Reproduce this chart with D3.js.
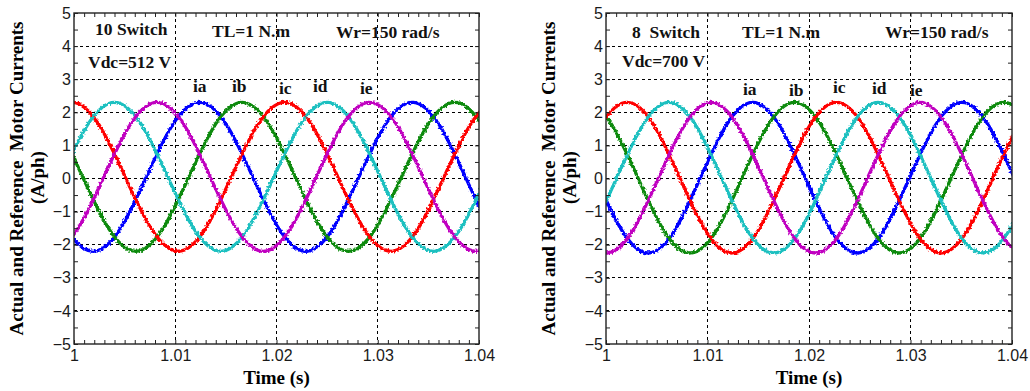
<!DOCTYPE html>
<html>
<head>
<meta charset="utf-8">
<script src="https://cdn.jsdelivr.net/npm/d3@7"></script>
<style>
  body { margin: 0; background: #fff; }
  svg { display: block; }
</style>
</head>
<body>
<div class="chart"></div>
<script>
// axis ticks
var xTicks = [1, 1.01, 1.02, 1.03, 1.04];
var xTickLabels = ["1", "1.01", "1.02", "1.03", "1.04"];
var yTicks = [-5, -4, -3, -2, -1, 0, 1, 2, 3, 4, 5];
var phaseNames = ["ia", "ib", "ic", "id", "ie"];

// 10 switch inverter, [time (s), current (A)]
var ia10 = [[0.99403,1.64],[0.99665,0.05],[0.99928,-1.54],[1.00190,-2.20],[1.00453,-1.54],[1.00715,0.05],[1.00978,1.64],[1.01240,2.30],[1.01503,1.64],[1.01765,0.05],[1.02028,-1.54],[1.02290,-2.20],[1.02553,-1.54],[1.02815,0.05],[1.03078,1.64],[1.03340,2.30],[1.03603,1.64],[1.03865,0.05],[1.04128,-1.54],[1.04390,-2.20],[1.04653,-1.54]];
var ib10 = [[0.99298,1.64],[0.99560,2.30],[0.99823,1.64],[1.00085,0.05],[1.00348,-1.54],[1.00610,-2.20],[1.00873,-1.54],[1.01135,0.05],[1.01398,1.64],[1.01660,2.30],[1.01923,1.64],[1.02185,0.05],[1.02448,-1.54],[1.02710,-2.20],[1.02973,-1.54],[1.03235,0.05],[1.03498,1.64],[1.03760,2.30],[1.04023,1.64],[1.04285,0.05],[1.04548,-1.54]];
var ic10 = [[0.99455,0.05],[0.99718,1.64],[0.99980,2.30],[1.00243,1.64],[1.00505,0.05],[1.00768,-1.54],[1.01030,-2.20],[1.01293,-1.54],[1.01555,0.05],[1.01818,1.64],[1.02080,2.30],[1.02343,1.64],[1.02605,0.05],[1.02868,-1.54],[1.03130,-2.20],[1.03393,-1.54],[1.03655,0.05],[1.03918,1.64],[1.04180,2.30],[1.04443,1.64]];
var id10 = [[0.99350,-2.20],[0.99613,-1.54],[0.99875,0.05],[1.00138,1.64],[1.00400,2.30],[1.00663,1.64],[1.00925,0.05],[1.01188,-1.54],[1.01450,-2.20],[1.01713,-1.54],[1.01975,0.05],[1.02238,1.64],[1.02500,2.30],[1.02763,1.64],[1.03025,0.05],[1.03288,-1.54],[1.03550,-2.20],[1.03813,-1.54],[1.04075,0.05],[1.04338,1.64],[1.04600,2.30]];
var ie10 = [[0.99245,0.05],[0.99508,-1.54],[0.99770,-2.20],[1.00033,-1.54],[1.00295,0.05],[1.00558,1.64],[1.00820,2.30],[1.01083,1.64],[1.01345,0.05],[1.01608,-1.54],[1.01870,-2.20],[1.02133,-1.54],[1.02395,0.05],[1.02658,1.64],[1.02920,2.30],[1.03183,1.64],[1.03445,0.05],[1.03708,-1.54],[1.03970,-2.20],[1.04233,-1.54],[1.04495,0.05]];

// 8 switch inverter
var ia8 = [[0.99386,2.30],[0.99644,1.63],[0.99901,0.03],[1.00159,-1.58],[1.00416,-2.25],[1.00674,-1.58],[1.00931,0.03],[1.01189,1.63],[1.01446,2.30],[1.01704,1.63],[1.01961,0.03],[1.02219,-1.58],[1.02476,-2.25],[1.02734,-1.58],[1.02991,0.03],[1.03249,1.63],[1.03506,2.30],[1.03764,1.63],[1.04021,0.03],[1.04279,-1.58],[1.04536,-2.25]];
var ib8 = [[0.99283,0.03],[0.99541,1.63],[0.99798,2.30],[1.00056,1.63],[1.00313,0.03],[1.00571,-1.58],[1.00828,-2.25],[1.01086,-1.58],[1.01343,0.03],[1.01601,1.63],[1.01858,2.30],[1.02116,1.63],[1.02373,0.03],[1.02631,-1.58],[1.02888,-2.25],[1.03146,-1.58],[1.03403,0.03],[1.03661,1.63],[1.03918,2.30],[1.04176,1.63],[1.04433,0.03]];
var ic8 = [[0.99438,-1.58],[0.99695,0.03],[0.99953,1.63],[1.00210,2.30],[1.00468,1.63],[1.00725,0.03],[1.00983,-1.58],[1.01240,-2.25],[1.01498,-1.58],[1.01755,0.03],[1.02013,1.63],[1.02270,2.30],[1.02528,1.63],[1.02785,0.03],[1.03043,-1.58],[1.03300,-2.25],[1.03558,-1.58],[1.03815,0.03],[1.04073,1.63],[1.04330,2.30],[1.04588,1.63]];
var id8 = [[0.99335,-1.58],[0.99592,-2.25],[0.99850,-1.58],[1.00107,0.03],[1.00365,1.63],[1.00622,2.30],[1.00880,1.63],[1.01137,0.03],[1.01395,-1.58],[1.01652,-2.25],[1.01910,-1.58],[1.02167,0.03],[1.02425,1.63],[1.02682,2.30],[1.02940,1.63],[1.03197,0.03],[1.03455,-1.58],[1.03712,-2.25],[1.03970,-1.58],[1.04227,0.03],[1.04485,1.63]];
var ie8 = [[0.99489,0.03],[0.99747,-1.58],[1.00004,-2.25],[1.00262,-1.58],[1.00519,0.03],[1.00777,1.63],[1.01034,2.30],[1.01292,1.63],[1.01549,0.03],[1.01807,-1.58],[1.02064,-2.25],[1.02322,-1.58],[1.02579,0.03],[1.02837,1.63],[1.03094,2.30],[1.03352,1.63],[1.03609,0.03],[1.03867,-1.58],[1.04124,-2.25],[1.04382,-1.58],[1.04639,0.03]];

var notes10 = ["10 Switch", "Vdc=512 V", "TL=1 N.m", "Wr=150 rad/s"];
var notes8 = ["8  Switch", "Vdc=700 V", "TL=1 N.m", "Wr=150 rad/s"];

var colors = ["#0000ff", "#0a8a0a", "#ff0000", "#1ec0c0", "#c000c0"];

var width = 1030, height = 391;
var svg = d3.select(".chart").append("svg")
  .attr("width", width)
  .attr("height", height)
  .attr("viewBox", "0 0 " + width + " " + height);

var defs = svg.append("defs");
var rough = defs.append("filter")
  .attr("id", "rough")
  .attr("filterUnits", "userSpaceOnUse")
  .attr("x", 0).attr("y", 0).attr("width", width).attr("height", height);
rough.append("feTurbulence")
  .attr("type", "fractalNoise")
  .attr("baseFrequency", 0.5)
  .attr("numOctaves", 1)
  .attr("seed", 4)
  .attr("result", "n");
rough.append("feDisplacementMap")
  .attr("in", "SourceGraphic")
  .attr("in2", "n")
  .attr("scale", 4)
  .attr("xChannelSelector", "R")
  .attr("yChannelSelector", "G");

var serif = "'Liberation Serif', 'Times New Roman', serif";
var sans = "'Liberation Sans', Arial, sans-serif";

// pixel layout of each panel; offsets of the notes are relative to the frame's left edge
var panels = [
  { id: "p10", left: 74, right: 479, series: [ia10, ib10, ic10, id10, ie10], notes: notes10,
    notePos: [[21, 35], [14, 68], [138, 37], [262, 38]],
    namePos: [[119, 92], [158, 92], [205, 94], [239, 92], [286, 94]] },
  { id: "p8", left: 606, right: 1012, series: [ia8, ib8, ic8, id8, ie8], notes: notes8,
    notePos: [[26, 38], [16, 67], [136, 38], [279, 38]],
    namePos: [[137, 95], [183, 96], [227, 93], [266, 94], [304, 96]] }
];
var plotTop = 13, plotBottom = 344;

panels.forEach(function (p) {
  var x = d3.scaleLinear().domain([1, 1.04]).range([p.left, p.right]);
  var y = d3.scaleLinear().domain([-5, 5]).range([plotBottom, plotTop]);
  var g = svg.append("g");

  defs.append("clipPath").attr("id", "clip-" + p.id)
    .append("rect")
    .attr("x", p.left).attr("y", plotTop)
    .attr("width", p.right - p.left).attr("height", plotBottom - plotTop);

  // dashed grid
  var grid = g.append("g");
  grid.append("g").selectAll("line").data(xTicks.slice(1, -1)).enter().append("line")
    .attr("x1", function (d) { return x(d); }).attr("x2", function (d) { return x(d); })
    .attr("y1", plotTop).attr("y2", plotBottom);
  grid.append("g").selectAll("line").data(yTicks.slice(1, -1)).enter().append("line")
    .attr("x1", p.left).attr("x2", p.right)
    .attr("y1", function (d) { return y(d); }).attr("y2", function (d) { return y(d); });
  grid.selectAll("line")
    .style("stroke", "#000")
    .style("stroke-width", 1)
    .style("stroke-dasharray", "3,3")
    .attr("shape-rendering", "crispEdges");

  // traces
  var line = d3.line()
    .x(function (d) { return x(d[0]); })
    .y(function (d) { return y(d[1]); })
    .curve(d3.curveNatural);
  var traces = g.append("g").attr("clip-path", "url(#clip-" + p.id + ")");
  traces.selectAll("path").data(p.series).enter().append("path")
    .attr("d", line)
    .attr("filter", "url(#rough)")
    .style("fill", "none")
    .style("stroke", function (d, i) { return colors[i]; })
    .style("stroke-width", 3.3);

  // inward minor ticks on all four sides
  var xMinor = d3.range(0, 41).map(function (i) { return 1 + i * 0.001; });
  var yMinor = d3.range(0, 21).map(function (i) { return -5 + i * 0.5; });
  var tickAxes = [
    [d3.axisBottom(x).tickValues(xMinor), "translate(0," + plotBottom + ")"],
    [d3.axisTop(x).tickValues(xMinor), "translate(0," + plotTop + ")"],
    [d3.axisLeft(y).tickValues(yMinor), "translate(" + p.left + ",0)"],
    [d3.axisRight(y).tickValues(yMinor), "translate(" + p.right + ",0)"]
  ];
  tickAxes.forEach(function (a) {
    var ax = g.append("g").attr("transform", a[1])
      .call(a[0].tickSize(-4).tickFormat(""));
    ax.select(".domain").remove();
    ax.selectAll("line").style("stroke", "#222").style("stroke-width", 1);
  });

  // frame
  g.append("rect")
    .attr("x", p.left).attr("y", plotTop)
    .attr("width", p.right - p.left).attr("height", plotBottom - plotTop)
    .style("fill", "none")
    .style("stroke", "#222")
    .style("stroke-width", 1.4);

  // tick labels
  var xl = g.append("g").attr("transform", "translate(0," + plotBottom + ")")
    .call(d3.axisBottom(x).tickValues(xTicks).tickSize(0).tickPadding(6)
      .tickFormat(function (d, i) { return xTickLabels[i]; }));
  var yl = g.append("g").attr("transform", "translate(" + p.left + ",0)")
    .call(d3.axisLeft(y).tickValues(yTicks).tickSize(0).tickPadding(3)
      .tickFormat(d3.format("d")));
  [xl, yl].forEach(function (ax) {
    ax.select(".domain").remove();
    ax.selectAll("text")
      .style("font-family", sans)
      .style("font-size", "16px")
      .style("fill", "#1a1a1a");
  });
  xl.selectAll("text").attr("dy", "0.71em");

  // axis titles
  var cy = (plotTop + plotBottom) / 2;
  g.append("text")
    .attr("transform", "translate(" + (p.left - 51) + "," + cy + ") rotate(-90)")
    .attr("text-anchor", "middle")
    .style("white-space", "pre")
    .style("font-family", serif).style("font-weight", "bold").style("font-size", "19px")
    .text("Actual and Reference  Motor Currents");
  g.append("text")
    .attr("transform", "translate(" + (p.left - 30) + "," + (cy - 1) + ") rotate(-90)")
    .attr("text-anchor", "middle")
    .style("font-family", serif).style("font-weight", "bold").style("font-size", "19px")
    .text("(A/ph)");
  g.append("text")
    .attr("x", (p.left + p.right) / 2).attr("y", 384)
    .attr("text-anchor", "middle")
    .style("font-family", serif).style("font-weight", "bold").style("font-size", "19px")
    .text("Time (s)");

  // operating notes and phase names
  g.selectAll(".note").data(p.notes).enter().append("text")
    .attr("class", "note")
    .attr("x", function (d, i) { return p.left + p.notePos[i][0]; })
    .attr("y", function (d, i) { return p.notePos[i][1]; })
    .style("white-space", "pre")
    .style("font-family", serif).style("font-weight", "bold").style("font-size", "17.5px")
    .style("fill", "#111")
    .text(function (d) { return d; });
  g.selectAll(".phase").data(phaseNames).enter().append("text")
    .attr("class", "phase")
    .attr("x", function (d, i) { return p.left + p.namePos[i][0]; })
    .attr("y", function (d, i) { return p.namePos[i][1]; })
    .style("font-family", serif).style("font-weight", "bold").style("font-size", "17.5px")
    .style("fill", "#111")
    .text(function (d) { return d; });
});
</script>
</body>
</html>
